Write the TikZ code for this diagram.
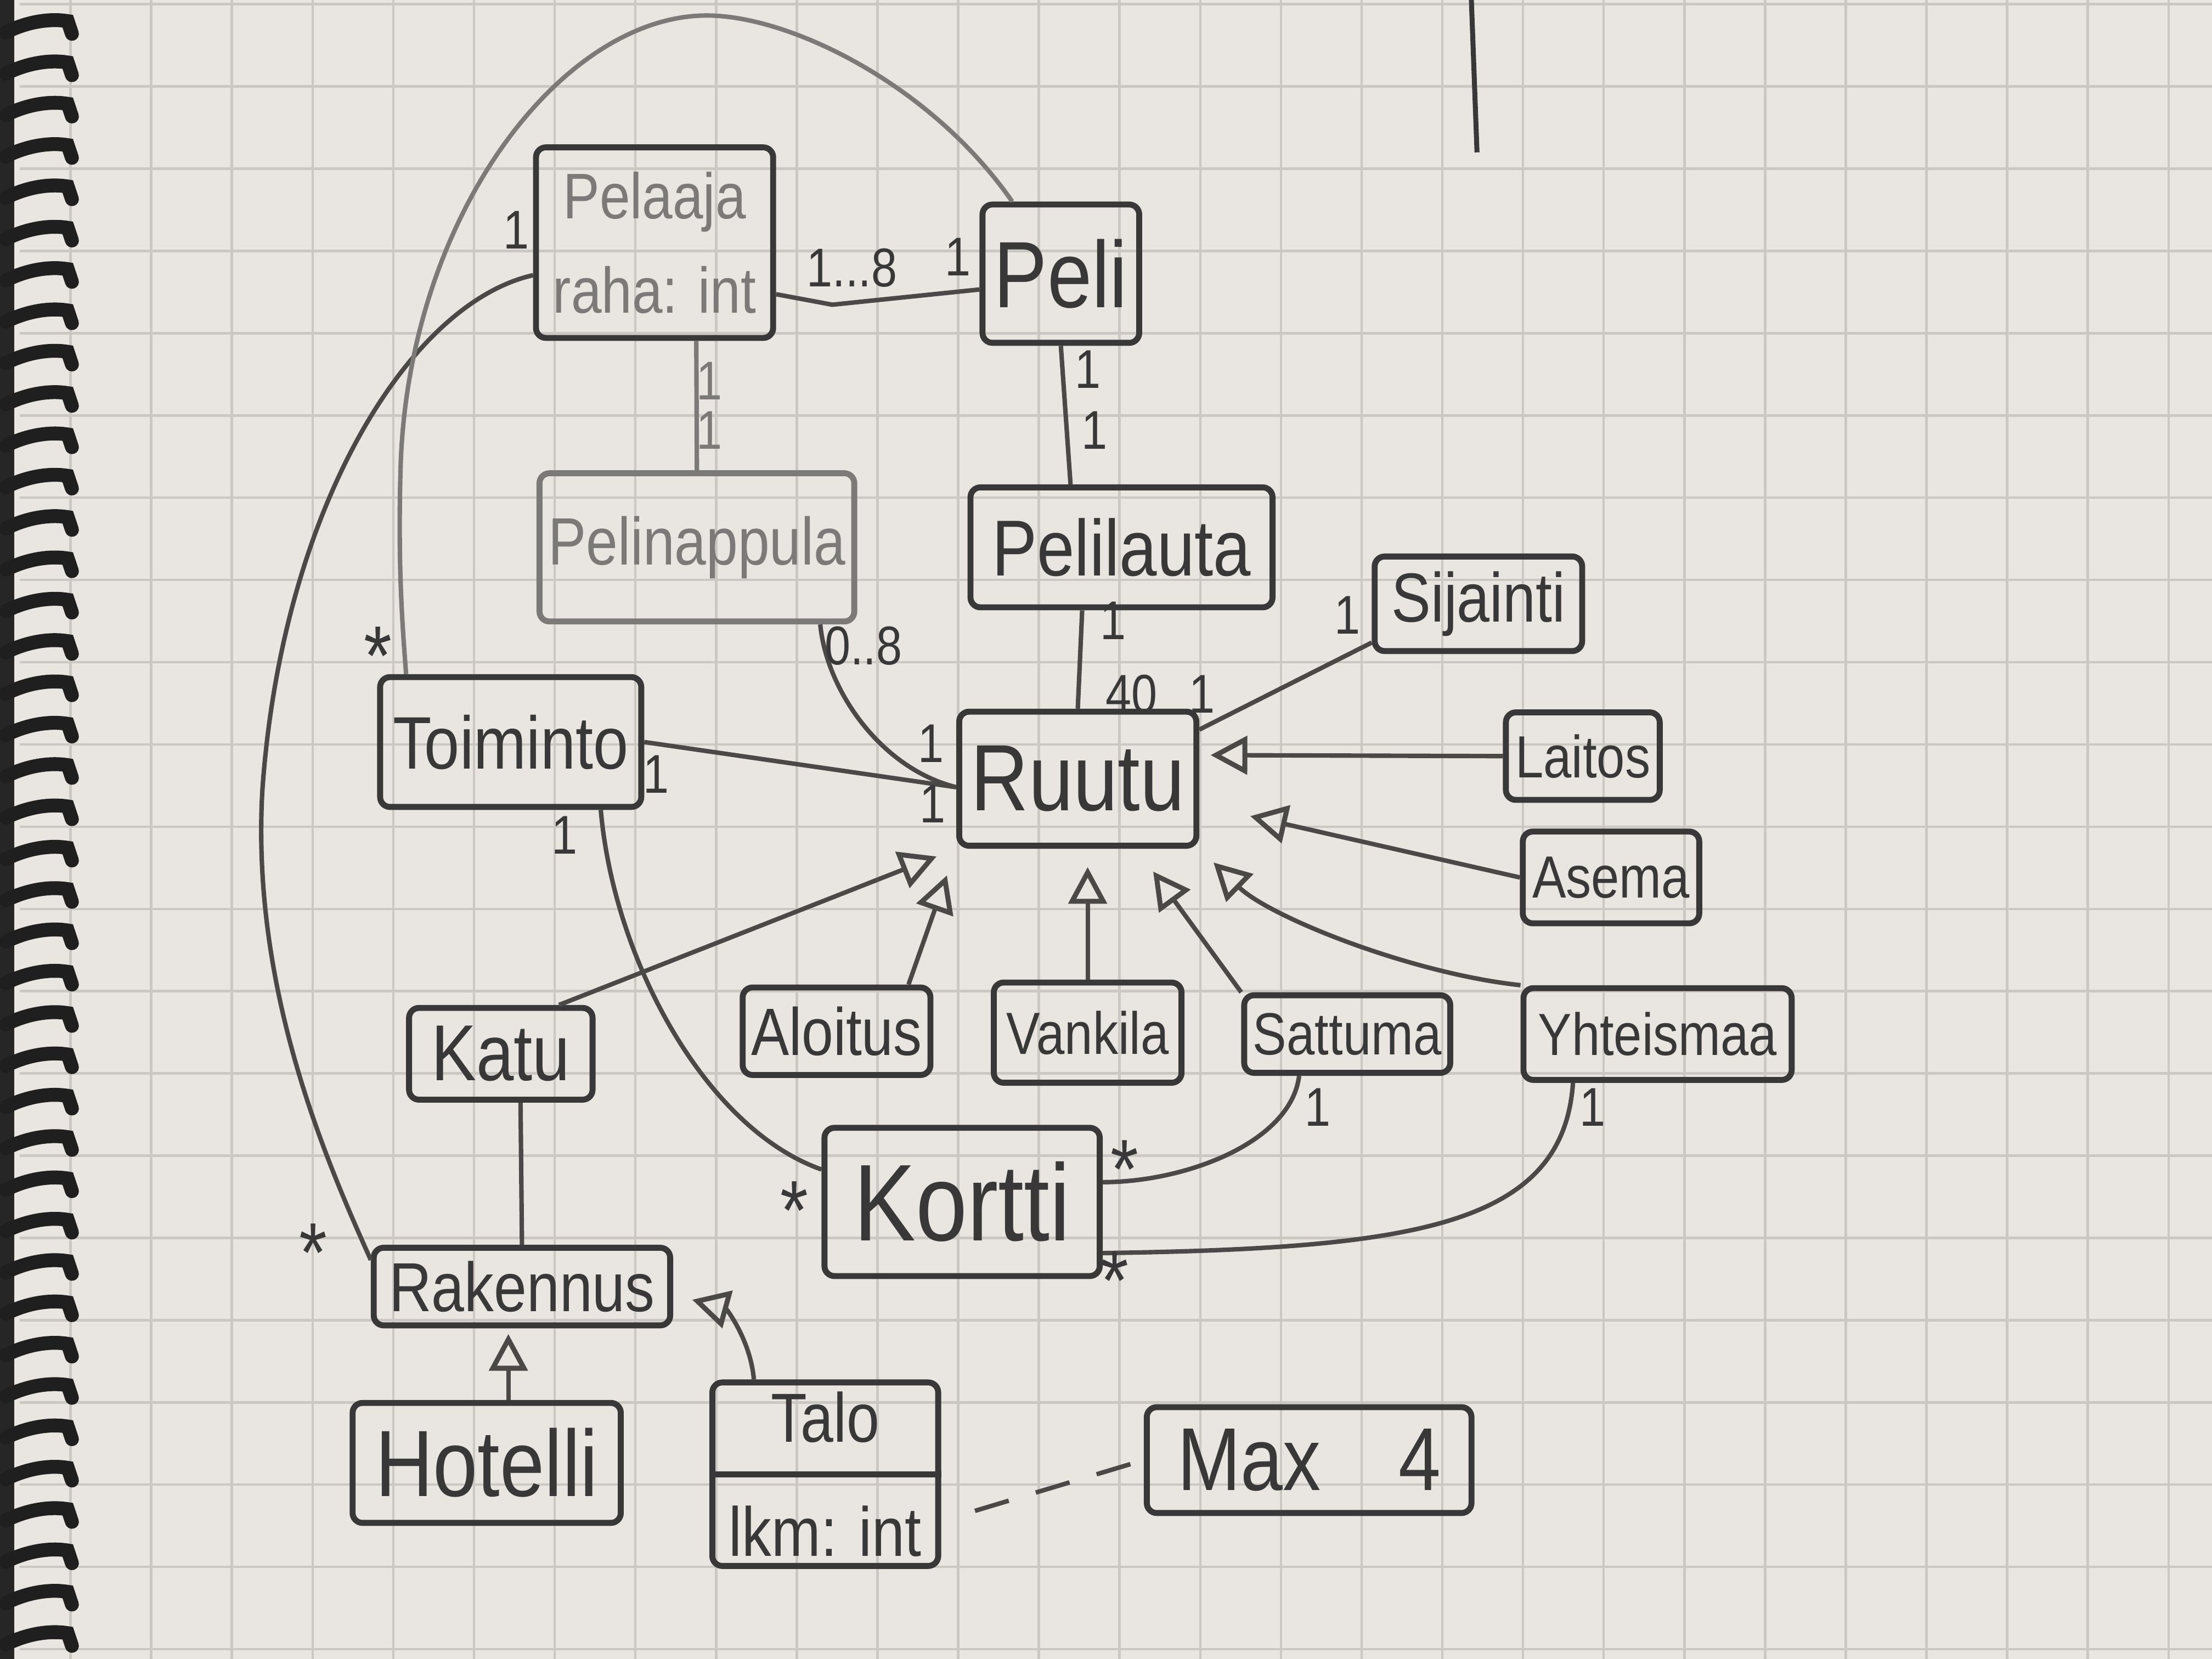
\documentclass[tikz,border=0pt]{standalone}
\usepackage{fontspec}
\newfontfamily\hand{Liberation Sans}[FakeStretch=0.85]
\usetikzlibrary{arrows.meta}
\definecolor{paper}{HTML}{E9E6E2}
\definecolor{gridc}{HTML}{CBC8C4}
\definecolor{pencil}{HTML}{383838}
\definecolor{faint}{HTML}{7C7A78}
\definecolor{lead}{HTML}{4A4948}
\tikzset{
  box/.style={draw=pencil, line width=1.2pt, rounded corners=2pt, inner sep=0pt, text=pencil, align=center},
  faintbox/.style={box, draw=faint, text=faint},
  link/.style={draw=lead, line width=0.9pt},
  gen/.style={link, -{Triangle[open, length=0.26cm, width=0.27cm, line width=1pt]}},
  mult/.style={text=pencil, inner sep=0pt, font=\hand\fontsize{11}{12}\selectfont},
  star/.style={text=pencil, inner sep=0pt, font=\hand\fontsize{17}{18}\selectfont},
  gridl/.style={draw=gridc, line width=0.5pt},
  fs/.style={font=\hand\fontsize{#1}{#1}\selectfont}
}
\begin{document}
\begin{tikzpicture}[x=0.01cm, y=-0.01cm]
\useasboundingbox (0,0) rectangle (1568,1176);
\fill[paper] (0,0) rectangle (1568,1176);
% grid paper
\foreach \i in {0,...,26} \draw[gridl] ({50+57.2*\i},0) -- ({50+57.2*\i},1176);
\foreach \j in {0,...,20} \draw[gridl] (14,{3+58.3*\j}) -- (1568,{3+58.3*\j});
% spiral binding
\fill[black!85] (0,0) rectangle (10,1176);
\foreach \k in {0,...,39} {
  \pgfmathsetmacro\yy{18+29.3*\k}
  \draw[line width=2.8pt, black!88, line cap=round] (4,\yy+5) .. controls (20,\yy-3) and (36,\yy-5) .. (48,\yy-3) -- (51,\yy+6);
}
% stray stroke top right
\draw[line width=1pt, pencil] (1043,0) -- (1047,108);

% classes
\node[box, minimum width=1.68cm, minimum height=1.35cm, text=faint, font=\hand\fontsize{13}{19}\selectfont] (pelaaja) at (464,172) {Pelaaja\\raha: int};
\node[box, minimum width=1.11cm, minimum height=0.98cm, fs=19] (peli) at (752,194) {Peli};
\node[faintbox, minimum width=2.23cm, minimum height=1.05cm, fs=13.5] (pelinappula) at (494,388) {Pelinappula};
\node[box, minimum width=2.14cm, minimum height=0.85cm, fs=16] (pelilauta) at (795,388) {Pelilauta};
\node[box, minimum width=1.47cm, minimum height=0.67cm, fs=14] (sijainti) at (1048,428) {Sijainti};
\node[box, minimum width=1.68cm, minimum height=0.95cm, fs=19] (ruutu) at (764,552) {Ruutu};
\node[box, minimum width=1.85cm, minimum height=0.92cm, fs=15] (toiminto) at (362,526) {Toiminto};
\node[box, minimum width=1.09cm, minimum height=0.62cm, fs=12] (laitos) at (1122,536) {Laitos};
\node[box, minimum width=1.25cm, minimum height=0.65cm, fs=12] (asema) at (1142,622) {Asema};
\node[box, minimum width=1.33cm, minimum height=0.62cm, fs=13.5] (aloitus) at (593,731) {Aloitus};
\node[box, minimum width=1.33cm, minimum height=0.71cm, fs=12] (vankila) at (771,732) {Vankila};
\node[box, minimum width=1.46cm, minimum height=0.55cm, fs=12] (sattuma) at (955,733) {Sattuma};
\node[box, minimum width=1.90cm, minimum height=0.65cm, fs=12] (yhteismaa) at (1175,733) {Yhteismaa};
\node[box, minimum width=1.30cm, minimum height=0.65cm, fs=16] (katu) at (355,747) {Katu};
\node[box, minimum width=1.95cm, minimum height=1.05cm, fs=22] (kortti) at (682,852) {Kortti};
\node[box, minimum width=2.10cm, minimum height=0.55cm, fs=14] (rakennus) at (370,912) {Rakennus};
\node[box, minimum width=1.90cm, minimum height=0.85cm, fs=19] (hotelli) at (345,1037) {Hotelli};
\node[box, minimum width=1.60cm, minimum height=1.30cm, font=\hand\fontsize{14}{20}\selectfont] (talo) at (585,1045) {Talo\\[3pt]lkm: int};
\draw[draw=pencil, line width=1.2pt] (talo.west) -- (talo.east);
\node[box, minimum width=2.30cm, minimum height=0.75cm, fs=18] (maxnote) at (928,1035) {Max\hspace{0.55cm}4};

% associations
\draw[link] (pelaaja.-23) -- (590,216) -- (peli.191);
\draw[link] (peli.south) -- (pelilauta.129);
\draw[link, draw=faint] (pelaaja.-67) -- (pelinappula.north);
\draw[link] (pelinappula.-32) .. controls (586,490) and (625,545) .. (ruutu.184);
\draw[link] (toiminto.east) -- (ruutu.184);
\draw[link] (pelilauta.-122) -- (ruutu.north);
\draw[link] (sijainti.200) -- (ruutu.22);
\draw[link] (toiminto.-37) .. controls (435,680) and (500,800) .. (kortti.167);
\draw[link] (sattuma.-139) .. controls (915,810) and (840,838) .. (kortti.8);
\draw[link] (yhteismaa.-150) .. controls (1108,870) and (1000,885) .. (kortti.-20);
\draw[link] (katu.-68) -- (rakennus.north);
\draw[link] (pelaaja.195) .. controls (290,215) and (200,360) .. (186,560) .. controls (178,700) and (230,820) .. (rakennus.170);
\draw[link, draw=faint] (peli.124) .. controls (660,60) and (560,11) .. (501,11) .. controls (400,11) and (290,150) .. (284,330) .. controls (282,400) and (285,440) .. (toiminto.147);
\draw[link, dashed, dash pattern=on 0.25cm off 0.2cm, shorten <=0.25cm] (talo.-22) -- (maxnote.west);

% generalisations
\draw[gen, shorten >=0.08cm] (laitos.west) -- (ruutu.11);
\draw[gen, shorten >=0.37cm] (asema.west) -- (ruutu.-12);
\draw[gen, shorten >=0.14cm] (yhteismaa.north west) .. controls (1000,690) and (900,650) .. (ruutu.south east);
\draw[gen, shorten >=0.2cm] (sattuma.north west) -- (ruutu.-50);
\draw[gen, shorten >=0.13cm] (vankila.north) -- (vankila.north |- ruutu.south);
\draw[gen, shorten >=0.2cm] (aloitus.33) -- (ruutu.south west);
\draw[gen, shorten >=0.15cm] (katu.40) -- (ruutu.south west);
\draw[gen, shorten >=0.04cm] (hotelli.71) -- (hotelli.71 |- rakennus.south);
\draw[gen, shorten >=0.14cm] (talo.127) .. controls (532,950) and (515,928) .. (rakennus.-3);

% multiplicities
\node[mult] (m1) at (604,190) {1...8};
\node[mult] (m2) at (679,182) {1};
\node[mult] (m3) at (771,262) {1};
\node[mult] (m4) at (776,305) {1};
\node[mult, text=faint] (m5) at (503,270) {1};
\node[mult, text=faint] (m6) at (503,305) {1};
\node[mult] (m7) at (612,458) {0..8};
\node[mult] (m8) at (660,527) {1};
\node[mult] (m9) at (465,549) {1};
\node[mult] (m10) at (661,570) {1};
\node[mult] (m11) at (789,440) {1};
\node[mult] (m12) at (802,492) {40};
\node[mult] (m13) at (955,436) {1};
\node[mult] (m14) at (852,492) {1};
\node[mult] (m15) at (400,592) {1};
\node[star] (m16) at (563,858) {*};
\node[mult] (m17) at (934,785) {1};
\node[star] (m18) at (797,829) {*};
\node[mult] (m19) at (1129,785) {1};
\node[star] (m20) at (790,908) {*};
\node[mult] (m21) at (366,163) {1};
\node[star] (m22) at (222,888) {*};
\node[star] (m23) at (268,465) {*};
\end{tikzpicture}
\end{document}
